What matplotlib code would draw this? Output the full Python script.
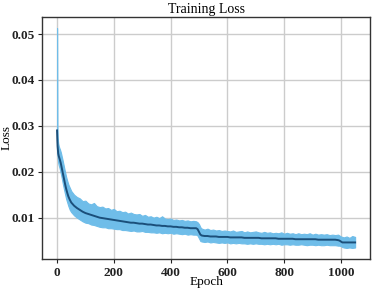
import numpy as np
import matplotlib
matplotlib.use('Agg')
import matplotlib.pyplot as plt

epochs = [0, 1, 2, 4, 6, 8, 10, 13, 16, 20,
          24, 28, 32, 36, 40, 45, 50, 60, 70, 80,
          90, 100, 110, 120, 130, 140, 150, 160, 170, 180,
          190, 200, 210, 220, 230, 240, 250, 260, 270, 280,
          290, 300, 310, 320, 330, 340, 350, 360, 370, 380,
          390, 400, 410, 420, 430, 440, 450, 460, 470, 480,
          490, 495, 500, 505, 510, 520, 530, 540, 550, 560,
          570, 580, 590, 600, 610, 620, 630, 640, 650, 660,
          670, 680, 690, 700, 710, 720, 730, 740, 750, 760,
          770, 780, 790, 800, 810, 820, 830, 840, 850, 860,
          870, 880, 890, 900, 910, 920, 930, 940, 950, 960,
          970, 980, 990, 995, 1000, 1005, 1010, 1020, 1030, 1040,
          1050]

loss_mean = [.0290, .0270, .0255, .0240, .0234, .0230, .0226, .0219, .0210, .0198,
             .0186, .0174, .0163, .0154, .0146, .0139, .0133, .0126, .0121, .0117,
             .0113, .0110, .0108, .0106, .0104, .0102, .0100, .0099, .0098, .0097,
             .0096, .0095, .0094, .0093, .0092, .0091, .0090, .0089, .0089, .0088,
             .0087, .0087, .0086, .0085, .0085, .0084, .0083, .0083, .0082, .0082,
             .0081, .0081, .0080, .0080, .0079, .0079, .0078, .0078, .0077, .0077,
             .0077, .0075, .0069, .0063, .0061, .0060, .0060, .0059, .0059, .0059,
             .0058, .0058, .0058, .0058, .0057, .0057, .0057, .0057, .0057, .0056,
             .0056, .0056, .0056, .0056, .0056, .0055, .0055, .0055, .0055, .0055,
             .0055, .0054, .0054, .0054, .0054, .0054, .0054, .0053, .0053, .0053,
             .0053, .0053, .0053, .0053, .0053, .0052, .0052, .0052, .0052, .0052,
             .0052, .0052, .0051, .0050, .0048, .0046, .0046, .0046, .0046, .0046,
             .0046]

loss_upper = [.0513, .0300, .0275, .0262, .0256, .0252, .0249, .0243, .0235, .0224,
              .0212, .0200, .0189, .0180, .0172, .0165, .0158, .0150, .0145, .0142,
              .0136, .0137, .0131, .0129, .0132, .0125, .0123, .0124, .0120, .0121,
              .0117, .0119, .0114, .0115, .0112, .0113, .0109, .0111, .0108, .0107,
              .0108, .0104, .0106, .0102, .0103, .0100, .0102, .0099, .0103, .0098,
              .0097, .0098, .0095, .0096, .0094, .0095, .0093, .0094, .0092, .0093,
              .0092, .0090, .0086, .0079, .0076, .0074, .0076, .0073, .0074, .0072,
              .0073, .0071, .0072, .0071, .0070, .0072, .0069, .0070, .0071, .0068,
              .0070, .0068, .0069, .0070, .0068, .0067, .0069, .0067, .0068, .0066,
              .0067, .0066, .0068, .0065, .0067, .0065, .0066, .0064, .0066, .0064,
              .0065, .0064, .0066, .0063, .0065, .0063, .0064, .0063, .0064, .0062,
              .0063, .0062, .0063, .0061, .0059, .0058, .0057, .0059, .0056, .0060,
              .0058]

loss_lower = [.0270, .0240, .0232, .0220, .0214, .0210, .0205, .0197, .0188, .0175,
              .0163, .0152, .0141, .0133, .0125, .0117, .0112, .0105, .0100, .0096,
              .0092, .0089, .0088, .0085, .0084, .0082, .0080, .0079, .0079, .0077,
              .0077, .0076, .0075, .0075, .0073, .0073, .0072, .0071, .0072, .0070,
              .0070, .0071, .0069, .0069, .0068, .0068, .0067, .0068, .0066, .0067,
              .0066, .0067, .0065, .0066, .0065, .0064, .0065, .0063, .0064, .0063,
              .0063, .0061, .0055, .0049, .0048, .0047, .0048, .0046, .0047, .0046,
              .0045, .0046, .0045, .0046, .0044, .0045, .0044, .0045, .0044, .0044,
              .0043, .0044, .0043, .0044, .0043, .0043, .0042, .0043, .0042, .0043,
              .0042, .0043, .0041, .0042, .0042, .0041, .0042, .0041, .0041, .0042,
              .0041, .0040, .0041, .0041, .0040, .0041, .0040, .0040, .0041, .0040,
              .0040, .0040, .0039, .0039, .0038, .0036, .0035, .0034, .0035, .0034,
              .0035]

plt.rcParams['font.family'] = ['Liberation Serif', 'DejaVu Serif']

fig = plt.figure(figsize=(3.73, 2.89), dpi=100)
ax = fig.add_axes([0.113, 0.104, 0.879, 0.837])

ax.fill_between(epochs, loss_lower, loss_upper, facecolor='#6fbde9',
                edgecolor='#6fbde9', linewidth=0.8, zorder=2)
ax.plot(epochs, loss_mean, color='#1b4f7a', linewidth=1.4, zorder=3)

ax.grid(True, color='#cccccc', linewidth=1.0, zorder=0)
ax.set_axisbelow(True)
for s in ax.spines.values():
    s.set_color('#333333')
    s.set_linewidth(1.0)

ax.set_xticks([0, 200, 400, 600, 800, 1000])
ax.set_yticks([0.01, 0.02, 0.03, 0.04, 0.05])
ax.tick_params(labelsize=9.5, length=3, width=0.8, pad=2.5, colors='#222222')
for lab in ax.get_xticklabels() + ax.get_yticklabels():
    lab.set_fontweight('bold')

ax.set_title('Training Loss', fontsize=10, pad=3)
ax.set_xlabel('Epoch', fontsize=9.5, labelpad=-2)
ax.set_ylabel('Loss', fontsize=9.5, labelpad=-1)

fig.savefig('out.png', dpi=100)
